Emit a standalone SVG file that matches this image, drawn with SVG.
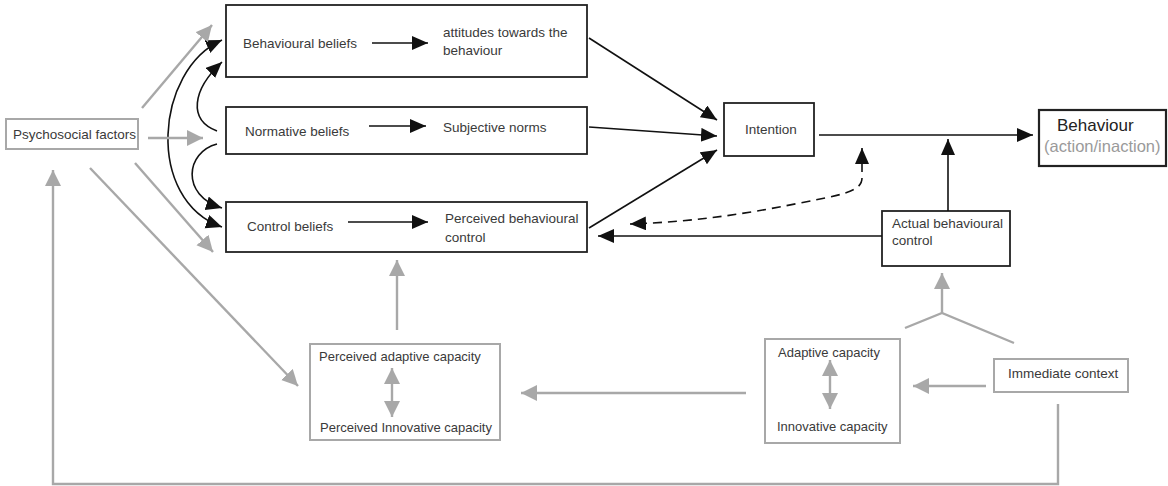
<svg xmlns="http://www.w3.org/2000/svg" width="1168" height="486" viewBox="0 0 1168 486">
<style>
.bbox{fill:#fff;stroke:#222;stroke-width:1.8}
.gbox{fill:#fff;stroke:#a8a8a8;stroke-width:2}
.t{font-family:"Liberation Sans",Arial,sans-serif;font-size:13.5px;fill:#3a3a3a}
.ts{font-family:"Liberation Sans",Arial,sans-serif;font-size:13px;fill:#3a3a3a}
.bl{fill:none;stroke:#111;stroke-width:1.6}
.gl{fill:none;stroke:#a8a8a8;stroke-width:2.4}
</style>
<defs>
<marker id="ab" markerUnits="userSpaceOnUse" markerWidth="17" markerHeight="15" refX="16" refY="7" orient="auto-start-reverse"><path d="M0,0 L16,7 L0,14 z" fill="#111"/></marker>
<marker id="ag" markerUnits="userSpaceOnUse" markerWidth="18" markerHeight="17" refX="16" refY="8" orient="auto-start-reverse"><path d="M0,0 L16,8 L0,16 z" fill="#a8a8a8"/></marker>
</defs>
<rect width="1168" height="486" fill="#fff"/>
<g id="psychosocial">
<rect class="gbox" x="6" y="119" width="132" height="30"/>
<text class="t" x="13" y="139">Psychosocial factors</text>
</g>
<g id="behavioural-beliefs">
<rect class="bbox" x="226" y="5" width="361" height="72"/>
<text class="t" x="243" y="48">Behavioural beliefs</text>
<text class="t" x="443" y="37">attitudes towards the</text>
<text class="t" x="443" y="55">behaviour</text>
</g>
<g id="normative-beliefs">
<rect class="bbox" x="226" y="107" width="361" height="47"/>
<text class="t" x="245" y="136">Normative beliefs</text>
<text class="t" x="443" y="132">Subjective norms</text>
</g>
<g id="control-beliefs">
<rect class="bbox" x="226" y="202" width="361" height="50"/>
<text class="t" x="247" y="231">Control beliefs</text>
<text class="t" x="445" y="223">Perceived behavioural</text>
<text class="t" x="445" y="242">control</text>
</g>
<g id="intention">
<rect class="bbox" x="724" y="103" width="90" height="53"/>
<text class="t" x="745" y="134">Intention</text>
</g>
<g id="behaviour">
<rect class="bbox" x="1039" y="110" width="127" height="56" style="stroke-width:2.2"/>
<text x="1057" y="131" style="font-family:'Liberation Sans',Arial,sans-serif;font-size:17px;fill:#222">Behaviour</text>
<text x="1044" y="152" style="font-family:'Liberation Sans',Arial,sans-serif;font-size:16.5px;fill:#9a9a9a">(action/inaction)</text>
</g>
<g id="actual-control">
<rect class="bbox" x="882" y="211" width="128" height="55"/>
<text class="t" x="892" y="228">Actual behavioural</text>
<text class="t" x="892" y="245">control</text>
</g>
<g id="perceived-capacity">
<rect class="gbox" x="310" y="344" width="190" height="96"/>
<text class="ts" x="319" y="361">Perceived adaptive capacity</text>
<text class="ts" x="320" y="432">Perceived Innovative capacity</text>
</g>
<g id="capacity">
<rect class="gbox" x="765" y="339" width="135" height="104"/>
<text class="ts" x="778" y="357">Adaptive capacity</text>
<text class="ts" x="777" y="431">Innovative capacity</text>
</g>
<g id="immediate-context">
<rect class="gbox" x="994" y="359" width="134" height="33"/>
<text class="t" x="1008" y="378">Immediate context</text>
</g>
<g id="connectors">
<line class="bl" x1="372" y1="43" x2="428" y2="43" marker-end="url(#ab)"/>
<line class="bl" x1="369" y1="126" x2="426" y2="126" marker-end="url(#ab)"/>
<line class="bl" x1="348" y1="222" x2="428" y2="222" marker-end="url(#ab)"/>
<path class="bl" d="M217,131 C188,120 192,90 222,62" marker-end="url(#ab)"/>
<path class="bl" d="M217,144 C186,152 180,195 222,208" marker-end="url(#ab)"/>
<path class="bl" d="M222,40 C155,70 145,200 222,227" marker-start="url(#ab)" marker-end="url(#ab)"/>
<line class="bl" x1="589" y1="38" x2="717" y2="120" marker-end="url(#ab)"/>
<line class="bl" x1="589" y1="127" x2="717" y2="136" marker-end="url(#ab)"/>
<line class="bl" x1="589" y1="228" x2="717" y2="150" marker-end="url(#ab)"/>
<line class="bl" x1="819" y1="135" x2="1033" y2="135" marker-end="url(#ab)"/>
<line class="bl" x1="948" y1="211" x2="948" y2="139" marker-end="url(#ab)"/>
<line class="bl" x1="882" y1="236" x2="598" y2="236" marker-end="url(#ab)"/>
<path class="bl" d="M862,148 L862,178 C862,192 840,195 800,203 C740,215 690,222 630,224" stroke-dasharray="9,6" marker-start="url(#ab)" marker-end="url(#ab)"/>
<line class="gl" x1="142" y1="108" x2="212" y2="25" marker-end="url(#ag)"/>
<line class="gl" x1="148" y1="138" x2="203" y2="138" marker-end="url(#ag)"/>
<line class="gl" x1="135" y1="163" x2="213" y2="252" marker-end="url(#ag)"/>
<line class="gl" x1="90" y1="168" x2="298" y2="386" marker-end="url(#ag)"/>
<line class="gl" x1="397" y1="330" x2="397" y2="260" marker-end="url(#ag)"/>
<line class="gl" x1="746" y1="393" x2="521" y2="393" marker-end="url(#ag)"/>
<line class="gl" x1="986" y1="386" x2="913" y2="386" marker-end="url(#ag)"/>
<polyline class="gl" points="905,328 942,313 1014,343"/>
<line class="gl" x1="942" y1="313" x2="942" y2="273" marker-end="url(#ag)"/>
<polyline class="gl" points="1058,404 1058,484 53,484 53,170" marker-end="url(#ag)"/>
<line class="gl" x1="392" y1="368" x2="392" y2="417" marker-start="url(#ag)" marker-end="url(#ag)"/>
<line class="gl" x1="830" y1="360" x2="830" y2="409" marker-start="url(#ag)" marker-end="url(#ag)"/>
</g>
</svg>
